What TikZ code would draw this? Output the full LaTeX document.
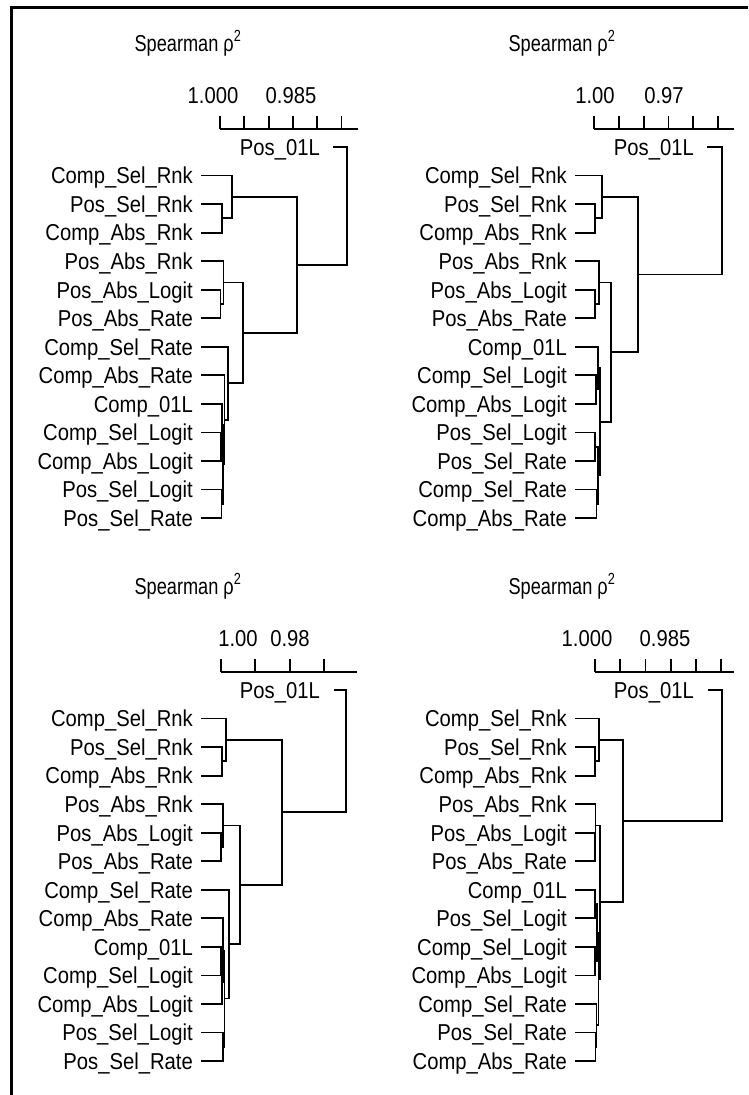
\documentclass[tikz,border=0pt]{standalone}
\usepackage{fontspec}
\setmainfont{Liberation Sans}[FakeStretch=0.88]
\newfontfamily\ttlfont{Liberation Sans}[FakeStretch=0.79]
\usetikzlibrary{calc}
\newcommand\lf[3]{\node[lab] (#1) at (193,#2+8.3) {#3};\coordinate (#1s) at (201,#2);}
\newcommand\jn[4]{\coordinate (#1) at ($(#3 -| #2,0)!0.5!(#4 -| #2,0)$);
  \draw[br] (#3) -- (#3 -| #1) -- (#4 -| #1) -- (#4);}
\def\ya{175.5}\def\yb{204}\def\yc{232.6}\def\yd{261.1}\def\ye{289.7}
\def\yf{318.2}\def\yg{346.7}\def\yh{375.3}\def\yi{403.8}\def\yj{432.4}
\def\yk{460.9}\def\yl{489.4}\def\ym{518}
\begin{document}
\begin{tikzpicture}[x=1pt,y=-1pt,
  lab/.style={font=\fontsize{23}{24}\selectfont, inner sep=0pt, anchor=base east},
  num/.style={font=\fontsize{23}{24}\selectfont, inner sep=0pt, anchor=base},
  ttl/.style={font=\ttlfont\fontsize{23}{24}\selectfont, inner sep=0pt, anchor=base},
  br/.style={line width=1.8pt, line join=miter},
  ax/.style={line width=1.8pt},
  frame/.style={line width=3pt}]
\useasboundingbox (0,0) rectangle (748,1095);
\fill[white] (0,0) rectangle (748,1095);
\coordinate (fTL) at (11,7); \coordinate (fTR) at (748,7); \coordinate (fBL) at (11,1095);
\draw[frame] (fTR) -- (fTL) -- (fBL);

% ---------------- Panel A (top left)
\begin{scope}
\node[ttl] (At) at (188,51) {Spearman ρ\textsuperscript{2}};
\node[num] (An1) at (213,103) {1.000};
\node[num] (An2) at (291,103) {0.985};
\draw[ax] (220,129) -- (358,129);
\foreach \t in {220,244.3,268.6,292.9,317.2,341.5} \draw[ax] (\t,129) -- (\t,116);
\node[lab] (A0) at (320,155.3) {Pos\_01L}; \coordinate (A0s) at (333,147);
\lf{A1}{\ya}{Comp\_Sel\_Rnk}
\lf{A2}{\yb}{Pos\_Sel\_Rnk}
\lf{A3}{\yc}{Comp\_Abs\_Rnk}
\lf{A4}{\yd}{Pos\_Abs\_Rnk}
\lf{A5}{\ye}{Pos\_Abs\_Logit}
\lf{A6}{\yf}{Pos\_Abs\_Rate}
\lf{A7}{\yg}{Comp\_Sel\_Rate}
\lf{A8}{\yh}{Comp\_Abs\_Rate}
\lf{A9}{\yi}{Comp\_01L}
\lf{A10}{\yj}{Comp\_Sel\_Logit}
\lf{A11}{\yk}{Comp\_Abs\_Logit}
\lf{A12}{\yl}{Pos\_Sel\_Logit}
\lf{A13}{\ym}{Pos\_Sel\_Rate}
\jn{Aa}{222}{A2s}{A3s}
\jn{Ab}{232}{A1s}{Aa}
\jn{Ac}{220.5}{A5s}{A6s}
\jn{Ad}{223.5}{A4s}{Ac}
\jn{Ae}{221}{A10s}{A11s}
\jn{Af}{222}{A9s}{Ae}
\jn{Ag}{221.5}{A12s}{A13s}
\jn{Ah}{223}{Af}{Ag}
\jn{Ai}{224.5}{A8s}{Ah}
\jn{Aj}{228}{A7s}{Ai}
\jn{Ak}{243}{Ad}{Aj}
\jn{Al}{297}{Ab}{Ak}
\jn{Am}{347}{A0s}{Al}
\end{scope}

% ---------------- Panel B (top right)
\begin{scope}[shift={(374,0)}]
\node[ttl] (Bt) at (188,51) {Spearman ρ\textsuperscript{2}};
\node[num] (Bn1) at (221,103) {1.00};
\node[num] (Bn2) at (290,103) {0.97};
\draw[ax] (220,129) -- (360,129);
\foreach \t in {220,244.8,269.6,294.4,319.2,344} \draw[ax] (\t,129) -- (\t,116);
\node[lab] (B0) at (320,155.3) {Pos\_01L}; \coordinate (B0s) at (333,147);
\lf{B1}{\ya}{Comp\_Sel\_Rnk}
\lf{B2}{\yb}{Pos\_Sel\_Rnk}
\lf{B3}{\yc}{Comp\_Abs\_Rnk}
\lf{B4}{\yd}{Pos\_Abs\_Rnk}
\lf{B5}{\ye}{Pos\_Abs\_Logit}
\lf{B6}{\yf}{Pos\_Abs\_Rate}
\lf{B7}{\yg}{Comp\_01L}
\lf{B8}{\yh}{Comp\_Sel\_Logit}
\lf{B9}{\yi}{Comp\_Abs\_Logit}
\lf{B10}{\yj}{Pos\_Sel\_Logit}
\lf{B11}{\yk}{Pos\_Sel\_Rate}
\lf{B12}{\yl}{Comp\_Sel\_Rate}
\lf{B13}{\ym}{Comp\_Abs\_Rate}
\jn{Ba}{221}{B2s}{B3s}
\jn{Bb}{228}{B1s}{Ba}
\jn{Bc}{221}{B5s}{B6s}
\jn{Bd}{225}{B4s}{Bc}
\jn{Be}{222}{B8s}{B9s}
\jn{Bf}{224}{B7s}{Be}
\jn{Bg}{221}{B10s}{B11s}
\jn{Bh}{222.5}{B12s}{B13s}
\jn{Bi}{224}{Bg}{Bh}
\jn{Bj}{226}{Bf}{Bi}
\jn{Bk}{237}{Bd}{Bj}
\jn{Bl}{264}{Bb}{Bk}
\jn{Bm}{348}{B0s}{Bl}
\end{scope}

% ---------------- Panel C (bottom left)
\begin{scope}[shift={(0,543)}]
\node[ttl] (Ct) at (188,51) {Spearman ρ\textsuperscript{2}};
\node[num] (Cn1) at (238,103) {1.00};
\node[num] (Cn2) at (290,103) {0.98};
\draw[ax] (221,129) -- (357,129);
\foreach \t in {221,255.3,289.6,323.9} \draw[ax] (\t,129) -- (\t,116);
\node[lab] (C0) at (320,155.3) {Pos\_01L}; \coordinate (C0s) at (334,147);
\lf{C1}{\ya}{Comp\_Sel\_Rnk}
\lf{C2}{\yb}{Pos\_Sel\_Rnk}
\lf{C3}{\yc}{Comp\_Abs\_Rnk}
\lf{C4}{\yd}{Pos\_Abs\_Rnk}
\lf{C5}{\ye}{Pos\_Abs\_Logit}
\lf{C6}{\yf}{Pos\_Abs\_Rate}
\lf{C7}{\yg}{Comp\_Sel\_Rate}
\lf{C8}{\yh}{Comp\_Abs\_Rate}
\lf{C9}{\yi}{Comp\_01L}
\lf{C10}{\yj}{Comp\_Sel\_Logit}
\lf{C11}{\yk}{Comp\_Abs\_Logit}
\lf{C12}{\yl}{Pos\_Sel\_Logit}
\lf{C13}{\ym}{Pos\_Sel\_Rate}
\jn{Ca}{222}{C2s}{C3s}
\jn{Cb}{226}{C1s}{Ca}
\jn{Cc}{221}{C5s}{C6s}
\jn{Cd}{223}{C4s}{Cc}
\jn{Ce}{221}{C9s}{C10s}
\jn{Cf}{222}{Ce}{C11s}
\jn{Cg}{223}{C8s}{Cf}
\jn{Ch}{223}{C12s}{C13s}
\jn{Ci}{224.5}{Cg}{Ch}
\jn{Cj}{229}{C7s}{Ci}
\jn{Ck}{240}{Cd}{Cj}
\jn{Cl}{282}{Cb}{Ck}
\jn{Cm}{346}{C0s}{Cl}
\end{scope}

% ---------------- Panel D (bottom right)
\begin{scope}[shift={(374,543)}]
\node[ttl] (Dt) at (188,51) {Spearman ρ\textsuperscript{2}};
\node[num] (Dn1) at (213,103) {1.000};
\node[num] (Dn2) at (291,103) {0.985};
\draw[ax] (221,129) -- (360,129);
\foreach \t in {221,246.2,271.4,296.6,321.8,347} \draw[ax] (\t,129) -- (\t,116);
\node[lab] (D0) at (320,155.3) {Pos\_01L}; \coordinate (D0s) at (334,147);
\lf{D1}{\ya}{Comp\_Sel\_Rnk}
\lf{D2}{\yb}{Pos\_Sel\_Rnk}
\lf{D3}{\yc}{Comp\_Abs\_Rnk}
\lf{D4}{\yd}{Pos\_Abs\_Rnk}
\lf{D5}{\ye}{Pos\_Abs\_Logit}
\lf{D6}{\yf}{Pos\_Abs\_Rate}
\lf{D7}{\yg}{Comp\_01L}
\lf{D8}{\yh}{Pos\_Sel\_Logit}
\lf{D9}{\yi}{Comp\_Sel\_Logit}
\lf{D10}{\yj}{Comp\_Abs\_Logit}
\lf{D11}{\yk}{Comp\_Sel\_Rate}
\lf{D12}{\yl}{Pos\_Sel\_Rate}
\lf{D13}{\ym}{Comp\_Abs\_Rate}
\jn{Da}{221}{D2s}{D3s}
\jn{Db}{225}{D1s}{Da}
\jn{Dc}{221}{D5s}{D6s}
\jn{Dd}{221.5}{D4s}{Dc}
\jn{De}{221}{D7s}{D8s}
\jn{Df}{221}{D9s}{D10s}
\jn{Dg}{223}{De}{Df}
\jn{Dh}{221.5}{D12s}{D13s}
\jn{Di}{222.5}{D11s}{Dh}
\jn{Dj}{224.5}{Dg}{Di}
\jn{Dk}{226}{Dd}{Dj}
\jn{Dl}{249}{Db}{Dk}
\jn{Dm}{348}{D0s}{Dl}
\end{scope}
\end{tikzpicture}
\end{document}
